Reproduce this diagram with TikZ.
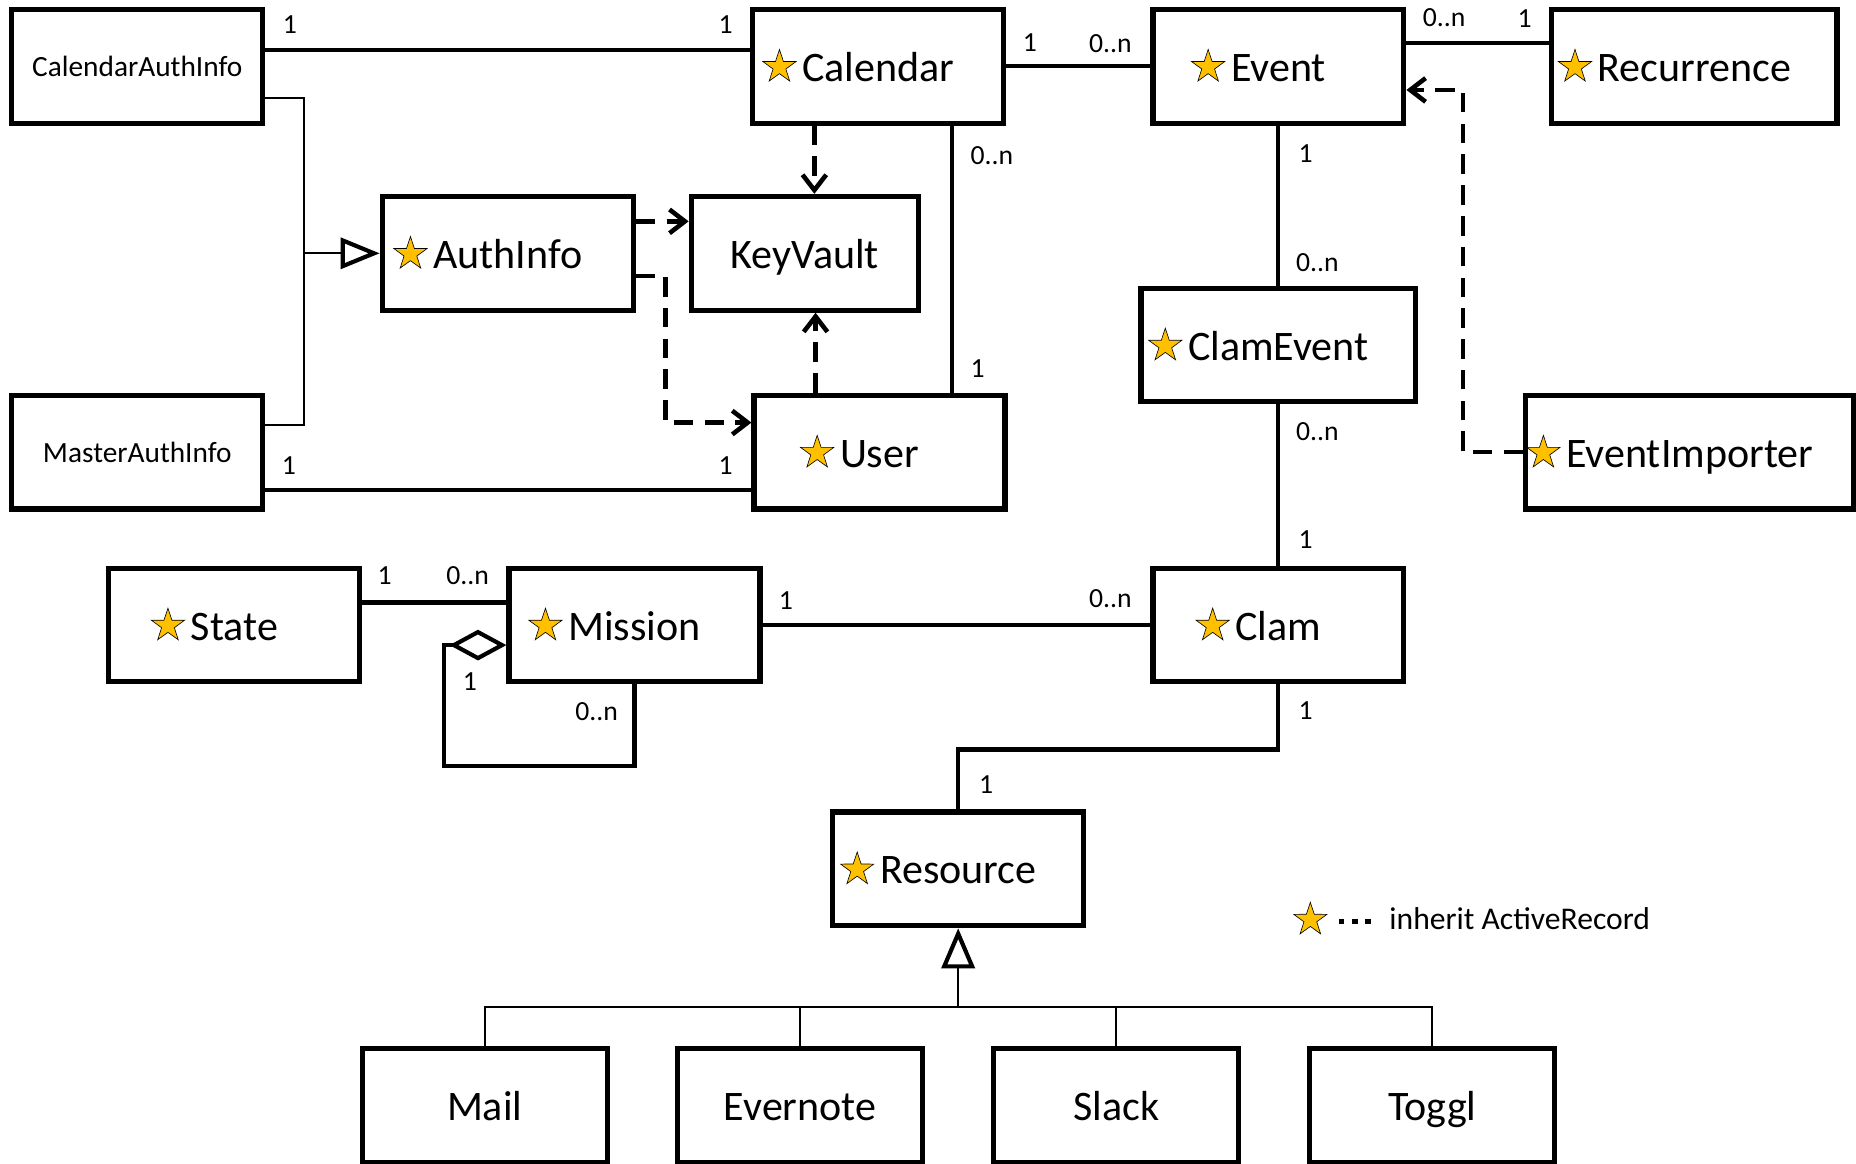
\documentclass[tikz,border=0pt]{standalone}
\usepackage{fontspec}
\setmainfont{Carlito}
\usetikzlibrary{arrows.meta,shapes.geometric,positioning}
\definecolor{starfill}{HTML}{FFC000}
\tikzset{arstarshape/.style={star,star points=5,star point ratio=2.6,draw=black,
    line width=0.3pt,fill=starfill,inner sep=0pt,minimum size=5.9mm}}
\newcommand{\arstar}{\tikz[baseline={(current bounding box.south)}]
  \node[arstarshape] {};}
\newcommand{\ar}[1]{\llap{\arstar\hspace{1mm}}#1}
\newcommand{\legdot}{\raisebox{1mm}{\rule{0.85mm}{0.85mm}}}

\begin{document}
\begin{tikzpicture}[x=0.2mm,y=-0.2mm,
    box/.style={draw,line width=2.5pt,minimum width=42.4mm,minimum height=19.2mm,
      inner sep=0pt,text height=14.5pt,text depth=0pt,
      font=\fontsize{20.2}{24}\selectfont},
    small/.style={box,text height=10pt,font=\fontsize{14.1}{17}\selectfont},
    assoc/.style={line width=2pt},
    gen/.style={line width=1.1pt},
    dep/.style={line width=2.2pt,dash pattern=on 3.3mm off 1.9mm,
      -{Straight Barb[length=2.6mm,width=4mm]}},
    mult/.style={inner sep=0pt,text height=8.6pt,text depth=0pt,
      font=\fontsize{13.3}{16}\selectfont},
    legend/.style={inner sep=0pt,text height=9.8pt,text depth=0pt,
      font=\fontsize{15.2}{18}\selectfont}]
  \useasboundingbox (0,0) rectangle (1568,983);
  % classes
  \node[small] (cai) at (116,56) {CalendarAuthInfo};
  \node[box] (cal) at (742,56) {\ar{Calendar}};
  \node[box] (evt) at (1080,56) {\ar{Event}};
  \node[box,minimum width=48.2mm] (rec) at (1431.5,56) {\ar{Recurrence}};
  \node[box] (auth) at (429,214) {\ar{AuthInfo}};
  \node[box,minimum width=38.4mm] (kv) at (680,214) {KeyVault};
  \node[box,minimum width=46.4mm] (clev) at (1080,291.5) {\ar{ClamEvent}};
  \node[small] (mai) at (116,382) {MasterAuthInfo};
  \node[box] (usr) at (743,382) {\ar{User}};
  \node[box,minimum width=55.4mm] (imp) at (1427.5,382) {\ar{EventImporter}};
  \node[box] (st) at (198,528) {\ar{State}};
  \node[box] (mis) at (536,528) {\ar{Mission}};
  \node[box] (clam) at (1080,528) {\ar{Clam}};
  \node[box] (res) at (809.5,734) {\ar{Resource}};
  \foreach \n/\t/\x in {mail/Mail/409.5,ever/Evernote/676,slack/Slack/943,toggl/Toggl/1210}
    \node[box,minimum width=41.4mm] (\n) at (\x,934) {\t};
  % associations
  \draw[assoc] ([yshift=2.8mm]cai.east) -- ([yshift=2.8mm]cal.west);
  \draw[assoc] (cal) -- (evt);
  \draw[assoc] ([yshift=4mm]evt.east) -- ([yshift=4mm]rec.west);
  \draw[assoc] ([yshift=-6.4mm]mai.east) -- ([yshift=-6.4mm]usr.west);
  \draw[assoc] ([xshift=12.4mm]cal.south) -- ([xshift=12.4mm]cal.south |- usr.north);
  \draw[assoc] (evt) -- (clev);
  \draw[assoc] (clev) -- (clam);
  \draw[assoc] ([yshift=3.8mm]st.east) -- ([yshift=3.8mm]mis.west);
  \draw[assoc] (mis) -- (clam);
  \draw[assoc] (clam.south) -- ++(0,55) -| (res.north);
  \draw[assoc,-{Diamond[open,length=9.6mm,width=5.2mm,line width=2pt]}]
    (mis.south) |- ++(-161,69) |- ([yshift=-3.4mm]mis.west);
  % generalizations
  \coordinate (authin) at (257,214);
  \draw[gen] ([yshift=-5.4mm]cai.east) -| (authin) |- ([yshift=4.6mm]mai.east);
  \draw[gen,-{Triangle[open,length=6.6mm,width=5.2mm,line width=2pt]}] (authin) -- (auth.west);
  \coordinate (reshub) at (809.5,851);
  \draw[gen,-{Triangle[open,length=6.8mm,width=5.6mm,line width=2pt]}] (reshub) -- (res.south);
  \draw[gen] (mail.north) |- (reshub) -| (toggl.north);
  \foreach \n in {ever,slack}
    \draw[gen] (\n.north) -- (\n.north |- reshub);
  % dependencies
  \draw[dep] ([xshift=1.6mm]kv.north |- cal.south) -- ([xshift=1.6mm]kv.north);
  \draw[dep] ([xshift=1.8mm]kv.south |- usr.north) -- ([xshift=1.8mm]kv.south);
  \draw[dep] ([yshift=5.4mm]auth.east) -- ([yshift=5.4mm]kv.west);
  \draw[dep] ([yshift=-3.8mm]auth.east) -- ++(25,0) |- ([yshift=5mm]usr.west);
  \draw[dep] (imp.west) -- ++(-51,0) |- ([yshift=-4mm]evt.east);
  % multiplicities
  \foreach \t/\x/\y [count=\i] in {1/245/21,1/613/21,1/870/36,0..n/938/37,
      0..n/1220/15,1/1288/16,0..n/838/131,1/826/311,1/1103/130,0..n/1113/222,
      1/244/393,1/613/393,0..n/1113/365,1/1103/456,1/325/486,0..n/395/486,
      1/664/507,0..n/938/506,1/397/576,0..n/504/601,1/1103/600,1/833/663}
    \node[mult] (m\i) at (\x,\y) {\t};
  % legend
  \node[arstarshape] (legstar) at (1107,777) {};
  \node[legend,right=3.2mm of legstar] (legtxt)
    {\legdot\hspace{1.35mm}\legdot\hspace{1.35mm}\legdot\hspace{3.2mm}inherit ActiveRecord};
\end{tikzpicture}
\end{document}
